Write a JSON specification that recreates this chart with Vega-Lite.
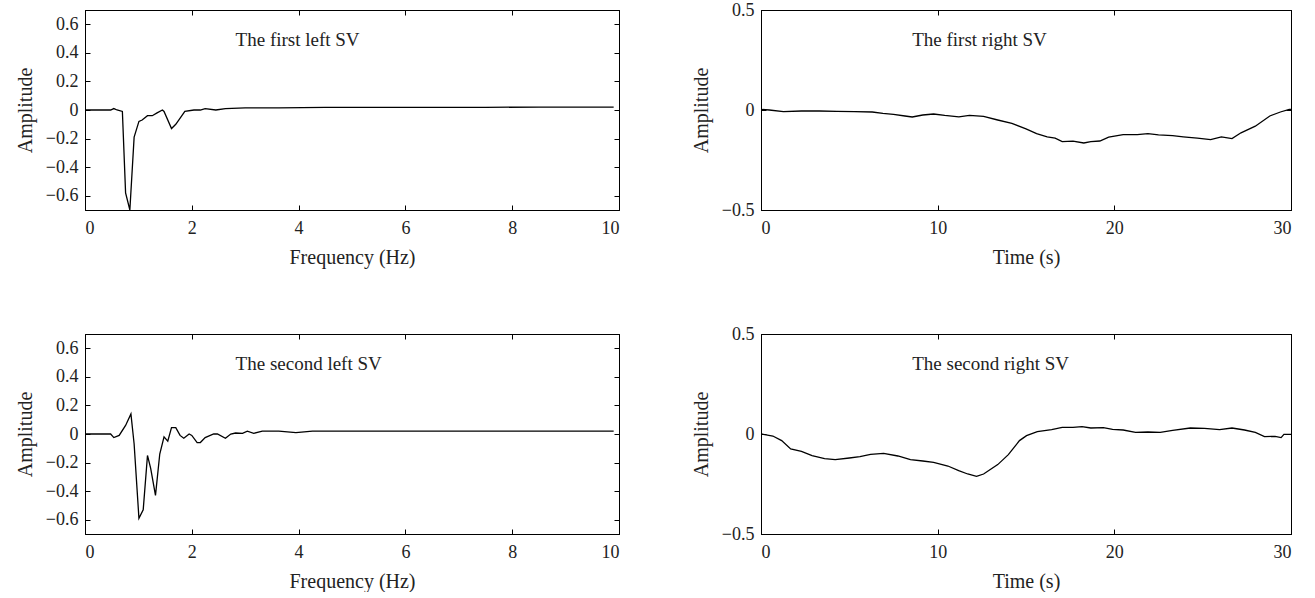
{
  "$schema": "https://vega.github.io/schema/vega-lite/v6.json",
  "padding": {"left": 14, "top": 0, "right": 0, "bottom": 0},
  "background": "white",
  "config": {
    "view": {"stroke": "black", "strokeWidth": 1},
    "font": "Liberation Serif",
    "axis": {
      "labelFont": "Liberation Serif", "labelFontSize": 18, "labelColor": "#222",
      "titleFont": "Liberation Serif", "titleFontSize": 20, "titleFontWeight": "normal", "titleColor": "#222",
      "domainColor": "black", "tickColor": "black", "grid": false, "tickSize": -5
    },
    "axisX": {"labelPadding": 14, "titlePadding": 10},
    "axisY": {"labelPadding": 12, "titlePadding": 10},
    "text": {"font": "Liberation Serif", "fontSize": 19, "color": "#222"}
  },
  "datasets": {
    "fl": [
      {"x": 0, "y": 0}, {"x": 0.48, "y": 0}, {"x": 0.54, "y": 0.01}, {"x": 0.6, "y": 0}, {"x": 0.7, "y": -0.01},
      {"x": 0.76, "y": -0.58}, {"x": 0.84, "y": -0.7}, {"x": 0.92, "y": -0.19}, {"x": 1.01, "y": -0.08}, {"x": 1.07, "y": -0.07},
      {"x": 1.17, "y": -0.04}, {"x": 1.26, "y": -0.04}, {"x": 1.35, "y": -0.02}, {"x": 1.45, "y": 0}, {"x": 1.48, "y": -0.01},
      {"x": 1.62, "y": -0.13}, {"x": 1.7, "y": -0.1}, {"x": 1.87, "y": -0.01}, {"x": 2.04, "y": 0}, {"x": 2.16, "y": 0},
      {"x": 2.25, "y": 0.01}, {"x": 2.45, "y": 0}, {"x": 2.63, "y": 0.01}, {"x": 3.0, "y": 0.015}, {"x": 3.63, "y": 0.015},
      {"x": 4.5, "y": 0.018}, {"x": 5.5, "y": 0.018}, {"x": 6.5, "y": 0.019}, {"x": 7.5, "y": 0.019}, {"x": 8.5, "y": 0.02}, {"x": 9.9, "y": 0.02}
    ],
    "sl": [
      {"x": 0, "y": 0}, {"x": 0.48, "y": 0}, {"x": 0.54, "y": -0.025}, {"x": 0.64, "y": -0.01}, {"x": 0.76, "y": 0.06},
      {"x": 0.86, "y": 0.14}, {"x": 0.92, "y": -0.07}, {"x": 1.01, "y": -0.59}, {"x": 1.09, "y": -0.53}, {"x": 1.17, "y": -0.15},
      {"x": 1.23, "y": -0.24}, {"x": 1.32, "y": -0.43}, {"x": 1.4, "y": -0.14}, {"x": 1.48, "y": -0.02}, {"x": 1.55, "y": -0.05},
      {"x": 1.62, "y": 0.045}, {"x": 1.7, "y": 0.045}, {"x": 1.78, "y": -0.01}, {"x": 1.85, "y": -0.03}, {"x": 1.95, "y": 0},
      {"x": 2.0, "y": -0.01}, {"x": 2.1, "y": -0.06}, {"x": 2.16, "y": -0.06}, {"x": 2.25, "y": -0.025}, {"x": 2.41, "y": 0},
      {"x": 2.48, "y": 0}, {"x": 2.63, "y": -0.03}, {"x": 2.73, "y": 0}, {"x": 2.82, "y": 0.007}, {"x": 2.95, "y": 0.005},
      {"x": 3.04, "y": 0.02}, {"x": 3.16, "y": 0.005}, {"x": 3.32, "y": 0.02}, {"x": 3.63, "y": 0.02}, {"x": 3.95, "y": 0.01},
      {"x": 4.26, "y": 0.02}, {"x": 5.5, "y": 0.02}, {"x": 7, "y": 0.02}, {"x": 8.5, "y": 0.02}, {"x": 9.9, "y": 0.02}
    ],
    "fr": [
      {"x": 0, "y": 0.003}, {"x": 0.47, "y": 0}, {"x": 1.27, "y": -0.008}, {"x": 2.29, "y": -0.005}, {"x": 3.3, "y": -0.005},
      {"x": 4.3, "y": -0.007}, {"x": 5.3, "y": -0.008}, {"x": 6.3, "y": -0.01}, {"x": 6.9, "y": -0.017}, {"x": 7.5, "y": -0.022},
      {"x": 8.15, "y": -0.03}, {"x": 8.56, "y": -0.035}, {"x": 9.16, "y": -0.025}, {"x": 9.77, "y": -0.02}, {"x": 10.4, "y": -0.027},
      {"x": 11.2, "y": -0.034}, {"x": 11.8, "y": -0.027}, {"x": 12.6, "y": -0.032}, {"x": 13.4, "y": -0.05}, {"x": 14.2, "y": -0.067},
      {"x": 15.0, "y": -0.094}, {"x": 15.6, "y": -0.118}, {"x": 16.2, "y": -0.134}, {"x": 16.65, "y": -0.141}, {"x": 17.05, "y": -0.158},
      {"x": 17.66, "y": -0.156}, {"x": 18.27, "y": -0.165}, {"x": 18.67, "y": -0.158}, {"x": 19.18, "y": -0.155}, {"x": 19.68, "y": -0.136},
      {"x": 20.5, "y": -0.123}, {"x": 21.3, "y": -0.123}, {"x": 21.9, "y": -0.118}, {"x": 22.5, "y": -0.124}, {"x": 23.3, "y": -0.128},
      {"x": 23.9, "y": -0.134}, {"x": 24.7, "y": -0.141}, {"x": 25.45, "y": -0.148}, {"x": 26.06, "y": -0.134}, {"x": 26.66, "y": -0.143},
      {"x": 27.17, "y": -0.114}, {"x": 27.98, "y": -0.081}, {"x": 28.8, "y": -0.03}, {"x": 29.4, "y": -0.01}, {"x": 29.9, "y": 0.003}, {"x": 30, "y": 0.003}
    ],
    "sr": [
      {"x": 0, "y": 0}, {"x": 0.67, "y": -0.01}, {"x": 1.17, "y": -0.033}, {"x": 1.68, "y": -0.075}, {"x": 2.29, "y": -0.087},
      {"x": 2.89, "y": -0.108}, {"x": 3.6, "y": -0.123}, {"x": 4.2, "y": -0.128}, {"x": 5.0, "y": -0.12}, {"x": 5.6, "y": -0.113},
      {"x": 6.2, "y": -0.102}, {"x": 6.94, "y": -0.097}, {"x": 7.75, "y": -0.11}, {"x": 8.46, "y": -0.128}, {"x": 9.16, "y": -0.135},
      {"x": 9.77, "y": -0.142}, {"x": 10.58, "y": -0.16}, {"x": 11.19, "y": -0.183}, {"x": 11.7, "y": -0.2}, {"x": 12.2, "y": -0.212},
      {"x": 12.6, "y": -0.2}, {"x": 13.4, "y": -0.153}, {"x": 14.0, "y": -0.103}, {"x": 14.63, "y": -0.033}, {"x": 15.03, "y": -0.008},
      {"x": 15.64, "y": 0.012}, {"x": 16.45, "y": 0.022}, {"x": 17.05, "y": 0.033}, {"x": 17.66, "y": 0.033}, {"x": 18.17, "y": 0.037},
      {"x": 18.67, "y": 0.03}, {"x": 19.38, "y": 0.032}, {"x": 19.9, "y": 0.023}, {"x": 20.5, "y": 0.02}, {"x": 21.2, "y": 0.008},
      {"x": 21.9, "y": 0.01}, {"x": 22.6, "y": 0.008}, {"x": 23.3, "y": 0.018}, {"x": 24.3, "y": 0.03}, {"x": 25.1, "y": 0.028},
      {"x": 25.96, "y": 0.022}, {"x": 26.66, "y": 0.03}, {"x": 27.37, "y": 0.02}, {"x": 27.98, "y": 0.008}, {"x": 28.5, "y": -0.013},
      {"x": 29.1, "y": -0.012}, {"x": 29.44, "y": -0.018}, {"x": 29.6, "y": -0.002}, {"x": 30, "y": -0.002}
    ],
    "labels": [
      {"panel": "fl", "x": 2.82, "y": 0.49, "label": "The first left SV"},
      {"panel": "sl", "x": 2.82, "y": 0.49, "label": "The second left SV"},
      {"panel": "fr", "x": 8.56, "y": 0.35, "label": "The first right SV"},
      {"panel": "sr", "x": 8.56, "y": 0.35, "label": "The second right SV"}
    ]
  },
  "vconcat": [
    {
      "hconcat": [
        {
          "width": 534, "height": 200,
          "layer": [
            {
              "data": {"name": "fl"},
              "mark": {"type": "line", "color": "black", "strokeWidth": 1.3, "clip": true},
              "encoding": {
                "x": {"field": "x", "type": "quantitative", "scale": {"domain": [0, 10], "nice": false}, "axis": {"title": "Frequency (Hz)", "values": [0, 2, 4, 6, 8, 10]}},
                "y": {"field": "y", "type": "quantitative", "scale": {"domain": [-0.7, 0.7], "nice": false, "zero": false}, "axis": {"title": "Amplitude", "values": [-0.6, -0.4, -0.2, 0, 0.2, 0.4, 0.6], "labelExpr": "replace(toString(round(datum.value*10)/10), '-', '\u2212')"}}
              }
            },
            {
              "data": {"name": "labels"},
              "transform": [{"filter": "datum.panel == 'fl'"}],
              "mark": {"type": "text", "align": "left", "baseline": "middle"},
              "encoding": {
                "x": {"field": "x", "type": "quantitative", "axis": null},
                "y": {"field": "y", "type": "quantitative", "axis": null},
                "text": {"field": "label"}
              }
            },
            {
              "data": {"name": "fl"},
              "mark": {"type": "line", "opacity": 0},
              "encoding": {
                "x": {"field": "x", "type": "quantitative", "axis": {"orient": "top", "title": null, "labels": false, "values": [0, 2, 4, 6, 8, 10]}},
                "y": {"field": "y", "type": "quantitative", "axis": {"orient": "right", "title": null, "labels": false, "values": [-0.6, -0.4, -0.2, 0, 0.2, 0.4, 0.6]}}
              }
            }
          ],
          "resolve": {"axis": {"x": "independent", "y": "independent"}}
        },
        {
          "width": 530, "height": 200,
          "layer": [
            {
              "data": {"name": "fr"},
              "mark": {"type": "line", "color": "black", "strokeWidth": 1.3, "clip": true},
              "encoding": {
                "x": {"field": "x", "type": "quantitative", "scale": {"domain": [0, 30], "nice": false}, "axis": {"title": "Time (s)", "values": [0, 10, 20, 30]}},
                "y": {"field": "y", "type": "quantitative", "scale": {"domain": [-0.5, 0.5], "nice": false, "zero": false}, "axis": {"title": "Amplitude", "values": [-0.5, 0, 0.5], "labelExpr": "replace(toString(round(datum.value*10)/10), '-', '\u2212')"}}
              }
            },
            {
              "data": {"name": "labels"},
              "transform": [{"filter": "datum.panel == 'fr'"}],
              "mark": {"type": "text", "align": "left", "baseline": "middle"},
              "encoding": {
                "x": {"field": "x", "type": "quantitative", "axis": null},
                "y": {"field": "y", "type": "quantitative", "axis": null},
                "text": {"field": "label"}
              }
            },
            {
              "data": {"name": "fr"},
              "mark": {"type": "line", "opacity": 0},
              "encoding": {
                "x": {"field": "x", "type": "quantitative", "axis": {"orient": "top", "title": null, "labels": false, "values": [0, 10, 20, 30]}},
                "y": {"field": "y", "type": "quantitative", "axis": {"orient": "right", "title": null, "labels": false, "values": [-0.5, 0, 0.5]}}
              }
            }
          ],
          "resolve": {"axis": {"x": "independent", "y": "independent"}}
        }
      ],
      "spacing": 70
    },
    {
      "hconcat": [
        {
          "width": 534, "height": 200,
          "layer": [
            {
              "data": {"name": "sl"},
              "mark": {"type": "line", "color": "black", "strokeWidth": 1.3, "clip": true},
              "encoding": {
                "x": {"field": "x", "type": "quantitative", "scale": {"domain": [0, 10], "nice": false}, "axis": {"title": "Frequency (Hz)", "values": [0, 2, 4, 6, 8, 10]}},
                "y": {"field": "y", "type": "quantitative", "scale": {"domain": [-0.7, 0.7], "nice": false, "zero": false}, "axis": {"title": "Amplitude", "values": [-0.6, -0.4, -0.2, 0, 0.2, 0.4, 0.6], "labelExpr": "replace(toString(round(datum.value*10)/10), '-', '\u2212')"}}
              }
            },
            {
              "data": {"name": "labels"},
              "transform": [{"filter": "datum.panel == 'sl'"}],
              "mark": {"type": "text", "align": "left", "baseline": "middle"},
              "encoding": {
                "x": {"field": "x", "type": "quantitative", "axis": null},
                "y": {"field": "y", "type": "quantitative", "axis": null},
                "text": {"field": "label"}
              }
            },
            {
              "data": {"name": "sl"},
              "mark": {"type": "line", "opacity": 0},
              "encoding": {
                "x": {"field": "x", "type": "quantitative", "axis": {"orient": "top", "title": null, "labels": false, "values": [0, 2, 4, 6, 8, 10]}},
                "y": {"field": "y", "type": "quantitative", "axis": {"orient": "right", "title": null, "labels": false, "values": [-0.6, -0.4, -0.2, 0, 0.2, 0.4, 0.6]}}
              }
            }
          ],
          "resolve": {"axis": {"x": "independent", "y": "independent"}}
        },
        {
          "width": 530, "height": 200,
          "layer": [
            {
              "data": {"name": "sr"},
              "mark": {"type": "line", "color": "black", "strokeWidth": 1.3, "clip": true},
              "encoding": {
                "x": {"field": "x", "type": "quantitative", "scale": {"domain": [0, 30], "nice": false}, "axis": {"title": "Time (s)", "values": [0, 10, 20, 30]}},
                "y": {"field": "y", "type": "quantitative", "scale": {"domain": [-0.5, 0.5], "nice": false, "zero": false}, "axis": {"title": "Amplitude", "values": [-0.5, 0, 0.5], "labelExpr": "replace(toString(round(datum.value*10)/10), '-', '\u2212')"}}
              }
            },
            {
              "data": {"name": "labels"},
              "transform": [{"filter": "datum.panel == 'sr'"}],
              "mark": {"type": "text", "align": "left", "baseline": "middle"},
              "encoding": {
                "x": {"field": "x", "type": "quantitative", "axis": null},
                "y": {"field": "y", "type": "quantitative", "axis": null},
                "text": {"field": "label"}
              }
            },
            {
              "data": {"name": "sr"},
              "mark": {"type": "line", "opacity": 0},
              "encoding": {
                "x": {"field": "x", "type": "quantitative", "axis": {"orient": "top", "title": null, "labels": false, "values": [0, 10, 20, 30]}},
                "y": {"field": "y", "type": "quantitative", "axis": {"orient": "right", "title": null, "labels": false, "values": [-0.5, 0, 0.5]}}
              }
            }
          ],
          "resolve": {"axis": {"x": "independent", "y": "independent"}}
        }
      ],
      "spacing": 70
    }
  ],
  "spacing": 56
}
